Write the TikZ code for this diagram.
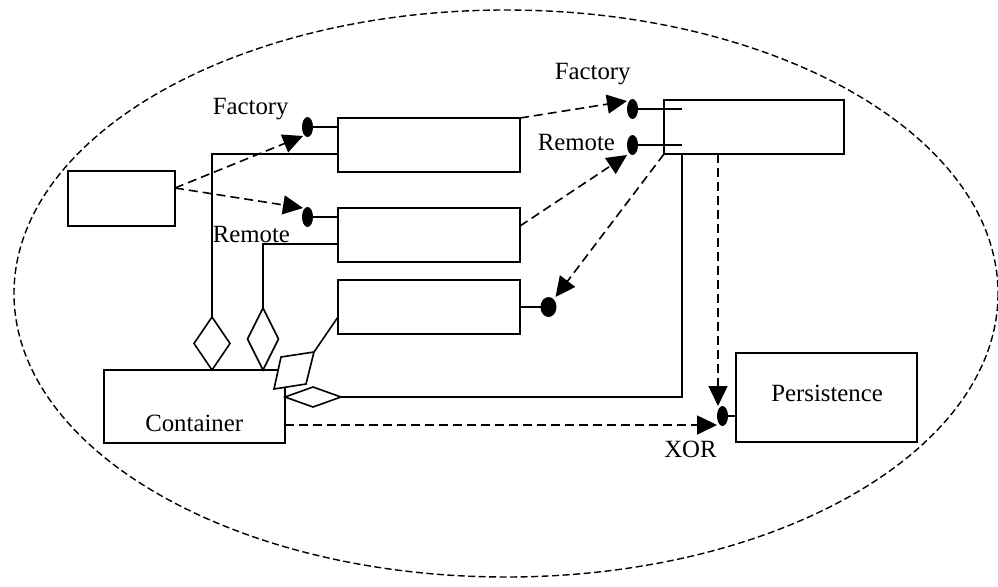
\documentclass[tikz,border=0pt]{standalone}
\usepackage{fontspec}
\setmainfont{Liberation Serif}
\usetikzlibrary{shapes.geometric,arrows.meta}
\tikzset{
  x=1pt,y=-1pt,
  every path/.style={line width=1.6pt,line join=miter},
  boxnode/.style={draw,rectangle,inner sep=0pt,outer sep=0pt,anchor=north west,line width=1.6pt},
  ball/.style={draw=none,fill=black,ellipse,inner sep=0pt,outer sep=0pt,minimum width=11pt,minimum height=20pt},
  bigball/.style={ball,minimum width=16pt},
  dia/.style={draw,diamond,inner sep=0pt,outer sep=0pt,line width=1.6pt},
  dep/.style={dash pattern=on 9pt off 5pt,-{Triangle[length=20pt,width=19pt]}},
  lab/.style={anchor=base west,inner sep=0pt,font=\fontsize{24.8}{28}\selectfont},
}
\begin{document}
\begin{tikzpicture}
\useasboundingbox (0,0) rectangle (998,586);
\coordinate (centre) at (506,293.5);
\draw[dash pattern=on 7pt off 3.5pt,line width=1.4pt] (centre) ellipse [x radius=492,y radius=283.5];

\node[boxnode,minimum width=107pt,minimum height=55pt] (client) at (68,171) {};
\node[boxnode,minimum width=182pt,minimum height=54pt] (bf) at (338,118) {};
\node[boxnode,minimum width=182pt,minimum height=54pt] (br) at (338,208) {};
\node[boxnode,minimum width=182pt,minimum height=54pt] (bh) at (338,280) {};
\node[boxnode,minimum width=180pt,minimum height=54pt] (srv) at (664,100) {};
\node[boxnode,minimum width=181pt,minimum height=89pt] (per) at (736,353) {};
\node[boxnode,minimum width=181pt,minimum height=73pt] (con) at (104,370) {};

\node[ball] (b1) at (307.5,127) {};
\node[ball] (b2) at (307.5,217) {};
\node[ball] (b3) at (632.5,109) {};
\node[ball] (b4) at (632.5,145) {};
\node[bigball] (b5) at (548.5,307) {};
\node[ball] (b6) at (722.5,416) {};

\node[dia,fill=white,minimum width=36pt,minimum height=53pt] (d1) at (212,343.5) {};
\node[dia,fill=white,minimum width=31pt,minimum height=62pt] (d2) at (263,339) {};
\node[dia,fill=white,minimum width=56pt,minimum height=20pt] (d3) at (313,397) {};

\coordinate (p1) at (314,352);
\coordinate (p2) at (281,357);
\coordinate (p3) at (274,389);
\coordinate (p4) at (306,384);
\draw[fill=white] (p1) -- (p2) -- (p3) -- (p4) -- cycle;

% solid connectors
\draw (b1.east) -- (bf.west |- b1.east);
\draw (b2.east) -- (br.west |- b2.east);
\draw (b3.east) -- (682,109);
\draw (b4.east) -- (682,145);
\draw (b5.west) -- (bh.east |- b5.west);
\draw (b6.east) -- (per.west |- b6.east);
\draw (bf.west |- 0,154) -| (d1.north);
\draw (br.west |- 0,244) -| (d2.north);
\draw (bh.west |- 0,317) -- (p1);
\draw (d3.east) -| (srv.south west -| 682,0);

% dashed connectors
\coordinate (cr) at (175,188);
\draw[dep] (cr) -- ([xshift=-4.5pt,yshift=-9pt]b1.center);
\draw[dep] (cr) -- ([xshift=-4.5pt,yshift=9pt]b2.center);
\draw[dep] (bf.north east) -- ([xshift=-5.5pt,yshift=8pt]b3.center);
\draw[dep] (br.east |- 0,226) -- ([xshift=-5.5pt,yshift=-10pt]b4.center);
\draw[dep] (srv.south west) -- ([xshift=7pt,yshift=10pt]b5.center);
\draw[dep] (srv.south west -| 718,0) -- ([xshift=-4.5pt,yshift=10pt]b6.center);
\draw[dep] (con.east |- 0,425) -- ([xshift=-5.5pt]b6.center |- 0,425);

% labels
\node[lab] (l1) at (212,114) {Factory};
\node[lab] (l2) at (554,79) {Factory};
\node[lab] (l3) at (537,150) {Remote};
\node[lab] (l4) at (212,242) {Remote};
\node[lab] (l5) at (144.5,431) {Container};
\node[lab] (l6) at (770.5,401) {Persistence};
\node[lab] (l7) at (663.5,457) {XOR};
\end{tikzpicture}
\end{document}
